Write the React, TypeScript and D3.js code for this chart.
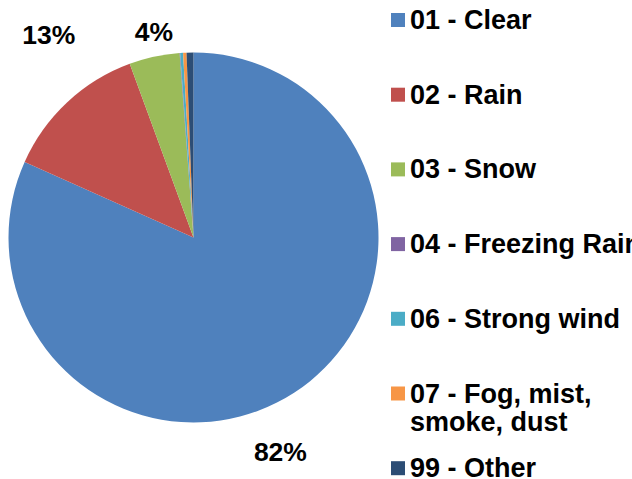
import React from "react";
import * as d3 from "d3";

// Weather condition categories and their share of records (%)
const categories = [
  "01 - Clear",
  "02 - Rain",
  "03 - Snow",
  "04 - Freezing Rain",
  "06 - Strong wind",
  "07 - Fog, mist, smoke, dust",
  "99 - Other",
];
const shares = [81.7, 12.7, 4.4, 0.05, 0.25, 0.3, 0.6];
const colors = ["#4F81BD", "#C0504D", "#9BBB59", "#8064A2", "#4BACC6", "#F79646", "#2C4D75"];

// Legend lines (long names wrap onto two lines)
const legendLines = [
  ["01 - Clear"],
  ["02 - Rain"],
  ["03 - Snow"],
  ["04 - Freezing Rain"],
  ["06 - Strong wind"],
  ["07 - Fog, mist,", "smoke, dust"],
  ["99 - Other"],
];

const W = 632;
const H = 479;
const CX = 193.5;
const CY = 237.5;
const R = 185;
const FONT = "Arial, 'Liberation Sans', sans-serif";

// Best-fit label offsets relative to a point just outside each slice
const labelNudge: Record<string, [number, number]> = {
  "01 - Clear": [-30, 34],
  "02 - Rain": [2, -46],
  "03 - Snow": [6, 4],
};

export default function App() {
  const data = categories.map((c, i) => ({ name: c, value: shares[i], color: colors[i] }));
  const total = d3.sum(data, (d) => d.value);
  const pie = d3.pie<typeof data[0]>().value((d) => d.value).sort(null);
  const arcs = pie(data);
  const arc = d3.arc<d3.PieArcDatum<typeof data[0]>>().innerRadius(0).outerRadius(R);
  const labelArc = d3.arc<d3.PieArcDatum<typeof data[0]>>().innerRadius(R + 30).outerRadius(R + 30);
  const fmt = d3.format(".0%");

  const legendX = 391;
  const legendTop = 29;
  const legendStep = 74.7;

  return (
    <svg
      width={W}
      height={H}
      style={{ position: "absolute", left: 0, top: 0, background: "#fff" }}
      fontFamily={FONT}
      fontWeight="bold"
    >
      <g transform={`translate(${CX},${CY})`}>
        {arcs.map((a) => (
          <path key={a.data.name} d={arc(a) || ""} fill={a.data.color} />
        ))}
        {arcs
          .filter((a) => a.data.value / total >= 0.02)
          .map((a) => {
            const [bx, by] = labelArc.centroid(a);
            const [nx, ny] = labelNudge[a.data.name] || [0, 0];
            return (
              <text
                key={a.data.name}
                x={bx + nx}
                y={by + ny}
                dy="0.36em"
                textAnchor="middle"
                fontSize={26.5}
                fill="#000"
              >
                {fmt(a.data.value / total)}
              </text>
            );
          })}
      </g>
      <g>
        {data.map((d, i) => {
          const base = legendTop + i * legendStep;
          return (
            <g key={d.name}>
              <rect x={legendX} y={base - 16} width={14} height={14} fill={d.color} />
              <text x={legendX + 19} y={base} fontSize={27} fill="#000">
                {legendLines[i].map((line, j) => (
                  <tspan key={j} x={legendX + 19} dy={j === 0 ? 0 : 28.5}>
                    {line}
                  </tspan>
                ))}
              </text>
            </g>
          );
        })}
      </g>
    </svg>
  );
}
